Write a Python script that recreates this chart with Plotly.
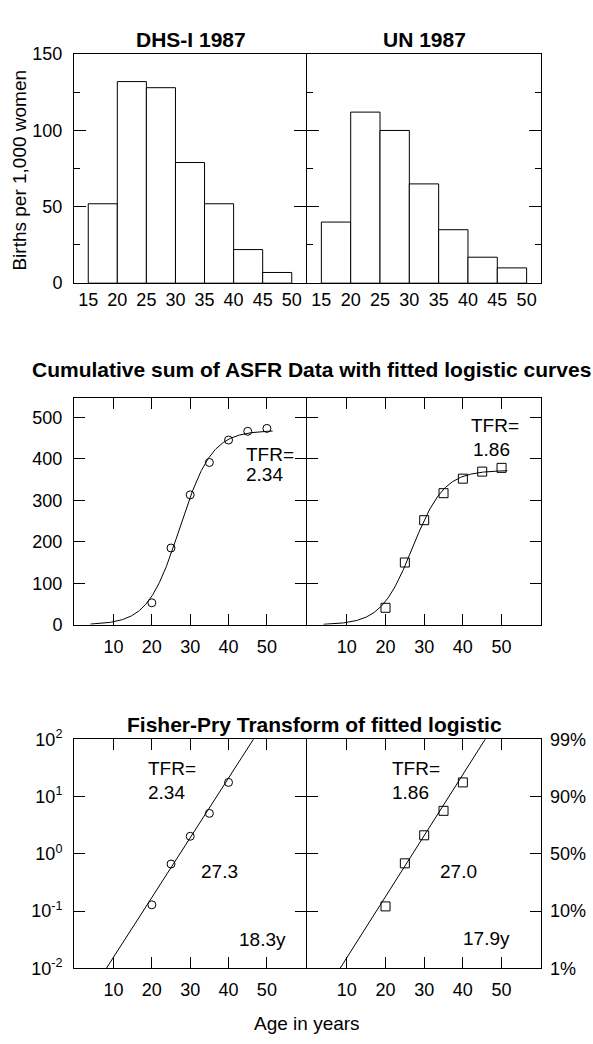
import numpy as np
import plotly.graph_objects as go

W, H = 593, 1044

# ---------------- data ----------------
age_group_starts = [15, 20, 25, 30, 35, 40, 45]
hist_ticks = [15, 20, 25, 30, 35, 40, 45, 50]
dhs_asfr = [52, 132, 128, 79, 52, 22, 7]
un_asfr = [40, 112, 100, 65, 35, 17, 10]

cum_ages = [20, 25, 30, 35, 40, 45, 50]
dhs_cum = [53, 185, 313, 391, 445, 466, 473]
un_cum = [41, 150, 252, 317, 352, 369, 378]

fp_ages = [20, 25, 30, 35, 40]
dhs_fp = [0.129, 0.665, 2.03, 5.1, 17.7]
un_fp = [0.121, 0.684, 2.11, 5.65, 17.7]

# fitted logistic parameters (shown on the chart)
dhs_tfr, dhs_mid, dhs_dt = 2.34, 27.3, 18.3
un_tfr, un_mid, un_dt = 1.86, 27.0, 17.9

age_ticks = [10, 20, 30, 40, 50]
cum_ticks = [0, 100, 200, 300, 400, 500]
hist_yticks = [0, 50, 100, 150]
hist_yminor = [25, 75, 125]
fp_tickvals = [0.01, 0.1, 1, 10, 100]
fp_ticktext = ["10<sup>-2</sup>", "10<sup>-1</sup>", "10<sup>0</sup>", "10<sup>1</sup>", "10<sup>2</sup>"]
pct_ticktext = ["1%", "10%", "50%", "90%", "99%"]


def logistic(t, tfr, mid, dt):
    k = tfr * 1000 / 5
    a = np.log(81) / dt
    return k / (1 + np.exp(-a * (t - mid)))


def fisher_pry(t, mid, dt):
    a = np.log(81) / dt
    return np.exp(a * (t - mid))


FONT = "Liberation Sans, Arial, sans-serif"
BLACK = "black"

fig = go.Figure()

# ---- top: histograms ----
bar_x = [s + 2.5 for s in age_group_starts]
for vals, xa, ya in [(dhs_asfr, "x", "y"), (un_asfr, "x2", "y2")]:
    fig.add_trace(go.Bar(x=bar_x, y=vals, width=5, xaxis=xa, yaxis=ya,
                         marker=dict(color="white", line=dict(color=BLACK, width=1)),
                         showlegend=False))

# ---- middle: cumulative sums with logistic ----
tc = np.linspace(4, 51.5, 300)
for tfr, mid, dt, pts, sym, msize, xa, ya in [
        (dhs_tfr, dhs_mid, dhs_dt, dhs_cum, "circle-open", 8, "x3", "y3"),
        (un_tfr, un_mid, un_dt, un_cum, "square-open", 9, "x4", "y4")]:
    fig.add_trace(go.Scatter(x=tc, y=logistic(tc, tfr, mid, dt), mode="lines",
                             line=dict(color=BLACK, width=1), xaxis=xa, yaxis=ya,
                             showlegend=False))
    fig.add_trace(go.Scatter(x=cum_ages, y=pts, mode="markers", xaxis=xa, yaxis=ya,
                             marker=dict(symbol=sym, size=msize, color=BLACK,
                                         line=dict(color=BLACK, width=1)),
                             showlegend=False))

# ---- bottom: Fisher-Pry ----
tf = np.linspace(0, 60, 200)
for mid, dt, pts, sym, msize, xa, ya in [
        (dhs_mid, dhs_dt, dhs_fp, "circle-open", 8, "x5", "y5"),
        (un_mid, un_dt, un_fp, "square-open", 9, "x6", "y6")]:
    fig.add_trace(go.Scatter(x=tf, y=fisher_pry(tf, mid, dt), mode="lines",
                             line=dict(color=BLACK, width=1), xaxis=xa, yaxis=ya,
                             showlegend=False))
    fig.add_trace(go.Scatter(x=fp_ages, y=pts, mode="markers", xaxis=xa, yaxis=ya,
                             marker=dict(symbol=sym, size=msize, color=BLACK,
                                         line=dict(color=BLACK, width=1)),
                             showlegend=False))
# invisible traces for the helper axes (percent scale, minor ticks)
fig.add_trace(go.Scatter(x=[None], y=[None], xaxis="x6", yaxis="y7", showlegend=False))
fig.add_trace(go.Scatter(x=[None], y=[None], xaxis="x", yaxis="y8", showlegend=False))


def dx(a, b):
    return [a / W, b / W]


def dy(top, bottom):
    return [1 - bottom / H, 1 - top / H]


tickfont = dict(family=FONT, size=18, color=BLACK)
base = dict(showline=True, linecolor=BLACK, linewidth=1, showgrid=False,
            zeroline=False, tickfont=tickfont, tickcolor=BLACK, tickwidth=1)

L = (74, 306)
R = (307, 541)
TOP = (43, 277)
MID = (394, 626)
BOT = (743, 977)
hx_range = [12.55, 52.45]
ax_range = [-0.3, 60.2]

layout = dict(
    width=W, height=H, margin=dict(l=0, r=0, t=0, b=0, pad=0),
    plot_bgcolor="rgba(0,0,0,0)", paper_bgcolor="white", showlegend=False, bargap=0,
    font=dict(family=FONT, color=BLACK),
)

# top x axes
for name, dom, anc in [("xaxis", L, "y"), ("xaxis2", R, "y2")]:
    layout[name] = dict(base, domain=dx(*dom), anchor=anc, range=hx_range, mirror=True,
                        tickmode="array", tickvals=hist_ticks, ticks="")
# top-left y axis (major ticks mirrored, minor only on the left side)
layout["yaxis"] = dict(base, domain=dy(*TOP), anchor="x", range=[0, 150],
                       tickmode="array", tickvals=hist_yticks, ticks="inside", ticklen=12,
                       mirror="ticks", ticklabelstandoff=7)
layout["yaxis8"] = dict(showline=False, showgrid=False, zeroline=False, overlaying="y",
                        anchor="x", side="left", range=[0, 150], tickmode="array",
                        tickvals=hist_yminor, ticks="inside", ticklen=6, tickcolor=BLACK,
                        tickwidth=1, showticklabels=False)
# top-right y axis
layout["yaxis2"] = dict(base, domain=dy(*TOP), anchor="x2", range=[0, 150],
                        tickmode="array", tickvals=hist_yticks, ticks="inside", ticklen=12,
                        mirror="ticks", showticklabels=False,
                        minor=dict(tickmode="array", tickvals=hist_yminor, ticks="inside",
                                   ticklen=6, tickcolor=BLACK, tickwidth=1, showgrid=False))
# middle & bottom x axes
for name, dom, anc, so in [("xaxis3", L, "y3", 6), ("xaxis4", R, "y4", 6),
                           ("xaxis5", L, "y5", 5), ("xaxis6", R, "y6", 5)]:
    layout[name] = dict(base, domain=dx(*dom), anchor=anc, range=ax_range,
                        tickmode="array", tickvals=age_ticks, ticks="inside", ticklen=11,
                        mirror="ticks", ticklabelstandoff=so)
# middle y axes
for name, dom, anc, lab in [("yaxis3", L, "x3", True), ("yaxis4", R, "x4", False)]:
    layout[name] = dict(base, domain=dy(*MID), anchor=anc, range=[0, 547],
                        tickmode="array", tickvals=cum_ticks, ticks="inside", ticklen=11,
                        mirror="ticks", showticklabels=lab, ticklabelstandoff=7)
# bottom y axes
for name, dom, anc, lab in [("yaxis5", L, "x5", True), ("yaxis6", R, "x6", False)]:
    layout[name] = dict(base, domain=dy(*BOT), anchor=anc, type="log", range=[-2, 2],
                        tickmode="array", tickvals=fp_tickvals, ticktext=fp_ticktext,
                        ticks="inside", ticklen=11, mirror="ticks", showticklabels=lab,
                        ticklabelstandoff=7)
layout["yaxis7"] = dict(showline=False, showgrid=False, zeroline=False, overlaying="y6",
                        anchor="x6", side="right", type="log", range=[-2, 2],
                        tickmode="array", tickvals=fp_tickvals, ticktext=pct_ticktext,
                        ticks="", tickfont=tickfont, ticklabelstandoff=8)

fig.update_layout(**layout)

# ---- annotations ----
ann = []


def paper_text(text, px, py, size=19, bold=False, angle=0):
    ann.append(dict(text=f"<b>{text}</b>" if bold else text, x=px / W, y=1 - py / H,
                    xref="paper", yref="paper", showarrow=False, xanchor="center",
                    yanchor="middle", textangle=angle,
                    font=dict(family=FONT, size=size, color=BLACK)))


paper_text("DHS-I 1987", 190.5, 28, 21, True)
paper_text("UN 1987", 424, 28, 21, True)
paper_text("Cumulative sum of ASFR Data with fitted logistic curves", 311, 365, 21, True)
paper_text("Fisher-Pry Transform of fitted logistic", 314, 728, 21, True)
paper_text("Age in years", 307, 1033, 19)
paper_text("Births per 1,000 women", 20, 162, 19, angle=-90)


def data_text(text, x, y, xa, ya):
    ann.append(dict(text=text, x=x, y=y, xref=xa, yref=ya, showarrow=False,
                    xanchor="left", yanchor="middle",
                    font=dict(family=FONT, size=19, color=BLACK)))


data_text("TFR=", 44.0, 410, "x3", "y3")
data_text(f"{dhs_tfr:.2f}", 44.0, 361, "x3", "y3")
data_text("TFR=", 41.5, 481, "x4", "y4")
data_text(f"{un_tfr:.2f}", 42.0, 422, "x4", "y4")

data_text("TFR=", 18.6, 1.487, "x5", "y5")
data_text(f"{dhs_tfr:.2f}", 18.6, 1.077, "x5", "y5")
data_text(f"{dhs_mid:.1f}", 32.4, -0.308, "x5", "y5")
data_text(f"{dhs_dt:.1f}y", 42.3, -1.487, "x5", "y5")

data_text("TFR=", 21.2, 1.487, "x6", "y6")
data_text(f"{un_tfr:.2f}", 21.2, 1.077, "x6", "y6")
data_text(f"{un_mid:.1f}", 33.5, -0.308, "x6", "y6")
data_text(f"{un_dt:.1f}y", 39.4, -1.47, "x6", "y6")

fig.update_layout(annotations=ann)

fig.write_html("out.html", config={"displayModeBar": False, "staticPlot": True},
               post_script="document.body.style.margin='0';document.body.style.overflow='hidden';")
